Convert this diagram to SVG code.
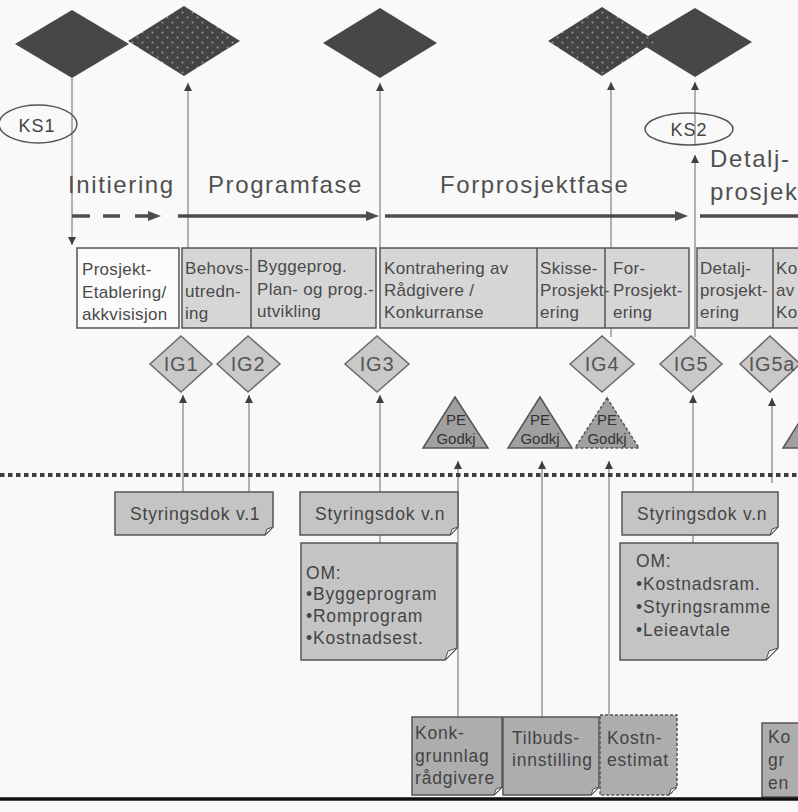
<svg xmlns="http://www.w3.org/2000/svg" width="798" height="812" viewBox="0 0 798 812">
<defs>
<pattern id="dots" width="10" height="10" patternUnits="userSpaceOnUse">
<rect width="10" height="10" fill="#444"/>
<circle cx="2.5" cy="2.5" r="1" fill="#9a9a9a"/>
<circle cx="7.5" cy="7.5" r="1" fill="#9a9a9a"/>
</pattern>
<marker id="ah" viewBox="0 0 10 10" refX="10" refY="5" markerWidth="8" markerHeight="8" markerUnits="userSpaceOnUse" orient="auto">
<path d="M0,0 L10,5 L0,10 Z" fill="#3e3e3e"/>
</marker>
</defs>
<style>
text{font-family:"Liberation Sans",Arial,sans-serif;fill:#4a4a4a}
.ph{font-size:24px;letter-spacing:1.6px;fill:#505050}
.bx{font-size:17px;letter-spacing:0.3px}
.ig{font-size:20px;letter-spacing:0.8px;text-anchor:middle;fill:#555}
.dk{font-size:17.5px;letter-spacing:0.8px;fill:#444}
.pe{font-size:15px;text-anchor:middle;fill:#333}
.ks{font-size:18px;letter-spacing:1px;text-anchor:middle;fill:#444}
.top{fill:#474747}
.conn line{stroke:#999;stroke-width:1.5;fill:none}
.box{fill:#d6d6d6;stroke:#555;stroke-width:1.5}
.igd{fill:#c9c9c9;stroke:#6a6a6a;stroke-width:1.5}
.tri{fill:#a0a0a0;stroke:#555;stroke-width:1.5}
.sd{fill:#c4c4c4;stroke:#555;stroke-width:1.5}
.bd{fill:#adadad;stroke:#555;stroke-width:1.5}
.fold{fill:#eeeeee;stroke:#555;stroke-width:1}
.parr{stroke:#4d4d4d;stroke-width:3.5;fill:none}
</style>
<rect width="798" height="812" fill="#f9f9f9"/>

<!-- connectors (drawn under nodes) -->
<g id="connectors" class="conn">
<line x1="72" y1="78" x2="72" y2="245" marker-end="url(#ah)"/>
<line x1="188" y1="248" x2="188" y2="83" marker-end="url(#ah)"/>
<line x1="380" y1="248" x2="380" y2="83" marker-end="url(#ah)"/>
<line x1="611" y1="337" x2="611" y2="82" marker-end="url(#ah)"/>
<line x1="695" y1="337" x2="695" y2="155" marker-end="url(#ah)"/>
<line x1="695" y1="146" x2="695" y2="82" marker-end="url(#ah)"/>
<line x1="183" y1="492" x2="183" y2="395" marker-end="url(#ah)"/>
<line x1="249" y1="492" x2="249" y2="395" marker-end="url(#ah)"/>
<line x1="380" y1="492" x2="380" y2="395" marker-end="url(#ah)"/>
<line x1="693" y1="492" x2="693" y2="395" marker-end="url(#ah)"/>
<line x1="772" y1="483" x2="772" y2="398" marker-end="url(#ah)"/>
<line x1="458" y1="717" x2="458" y2="461" marker-end="url(#ah)"/>
<line x1="542" y1="717" x2="542" y2="461" marker-end="url(#ah)"/>
<line x1="609" y1="715" x2="609" y2="461" marker-end="url(#ah)"/>
<line x1="380" y1="535" x2="380" y2="543"/>
<line x1="693" y1="535" x2="693" y2="543"/>
</g>

<!-- top milestones -->
<g id="m1"><polygon class="top" points="15,44 72,10 129,44 72,78"/></g>
<g id="m3"><polygon class="top" points="323,43 380,8 437,43 380,78"/></g>
<g id="m5"><polygon class="top" points="638,42 695,8 752,42 695,77"/></g>
<g id="m2"><polygon fill="url(#dots)" points="128,41 184,6 240,41 184,76"/></g>
<g id="m4"><polygon fill="url(#dots)" points="548,41 602,7 656,41 602,76"/></g>

<!-- KS ellipses -->
<g id="ks1"><ellipse cx="38" cy="124" rx="39" ry="19" fill="none" stroke="#555" stroke-width="1.5"/><text class="ks" x="37" y="132">KS1</text></g>
<g id="ks2"><ellipse cx="689" cy="129" rx="44" ry="16" fill="none" stroke="#555" stroke-width="1.5"/><text class="ks" x="689" y="136">KS2</text></g>

<!-- phases -->
<g id="phases">
<text class="ph" x="68" y="193">Initiering</text>
<text class="ph" x="208" y="193">Programfase</text>
<text class="ph" x="440" y="193">Forprosjektfase</text>
<text class="ph" x="710" y="167">Detalj-</text>
<text class="ph" x="710" y="200">prosjek</text>
<g id="phase-arrows">
<line class="parr" x1="72" y1="216" x2="90" y2="216"/>
<line class="parr" x1="103" y1="216" x2="120" y2="216"/>
<line class="parr" x1="135" y1="216" x2="150" y2="216"/>
<path d="M148,211 L161,216 L148,221 Z" fill="#4d4d4d"/>
<line class="parr" x1="178" y1="216" x2="368" y2="216"/>
<path d="M366,211 L379,216 L366,221 Z" fill="#4d4d4d"/>
<line class="parr" x1="385" y1="216" x2="677" y2="216"/>
<path d="M675,211 L688,216 L675,221 Z" fill="#4d4d4d"/>
<line class="parr" x1="700" y1="216" x2="798" y2="216"/>
</g>
</g>

<!-- activity boxes -->
<g id="boxA"><rect x="77" y="248" width="102" height="80" fill="#fbfbfb" stroke="#555" stroke-width="1.5"/>
<text class="bx" x="82" y="275">Prosjekt-</text><text class="bx" x="82" y="298">Etablering/</text><text class="bx" x="82" y="320">akkvisisjon</text></g>
<g id="boxB"><rect class="box" x="182" y="248" width="194" height="80"/><line x1="251" y1="248" x2="251" y2="328" stroke="#555" stroke-width="1.5"/>
<text class="bx" x="185" y="274">Behovs-</text><text class="bx" x="185" y="297">utredn-</text><text class="bx" x="185" y="319">ing</text>
<text class="bx" x="257" y="272">Byggeprog.</text><text class="bx" x="257" y="295">Plan- og prog.-</text><text class="bx" x="257" y="317">utvikling</text></g>
<g id="boxC"><rect class="box" x="380" y="248" width="309" height="80"/>
<line x1="537" y1="248" x2="537" y2="328" stroke="#555" stroke-width="1.5"/><line x1="605" y1="248" x2="605" y2="328" stroke="#555" stroke-width="1.5"/>
<text class="bx" x="384" y="274">Kontrahering av</text><text class="bx" x="384" y="296">Rådgivere /</text><text class="bx" x="384" y="318">Konkurranse</text>
<text class="bx" x="540" y="274">Skisse-</text><text class="bx" x="540" y="296">Prosjekt-</text><text class="bx" x="540" y="318">ering</text>
<text class="bx" x="613" y="274">For-</text><text class="bx" x="613" y="296">Prosjekt-</text><text class="bx" x="613" y="318">ering</text></g>
<g id="boxD"><rect class="box" x="697" y="248" width="110" height="80"/><line x1="773" y1="248" x2="773" y2="328" stroke="#555" stroke-width="1.5"/>
<text class="bx" x="700" y="274">Detalj-</text><text class="bx" x="700" y="296">prosjekt-</text><text class="bx" x="700" y="318">ering</text>
<text class="bx" x="776" y="274">Ko</text><text class="bx" x="776" y="296">av</text><text class="bx" x="776" y="318">Ko</text></g>

<!-- IG gates -->
<g id="ig1"><polygon class="igd" points="150,364 181,336 212,364 181,392"/><text class="ig" x="181" y="371">IG1</text></g>
<g id="ig2"><polygon class="igd" points="217,364 248,336 280,364 248,392"/><text class="ig" x="248" y="371">IG2</text></g>
<g id="ig3"><polygon class="igd" points="345,364 377,336 409,364 377,392"/><text class="ig" x="377" y="371">IG3</text></g>
<g id="ig4"><polygon class="igd" points="570,364 602,336 634,364 602,392"/><text class="ig" x="602" y="371">IG4</text></g>
<g id="ig5"><polygon class="igd" points="660,364 691,336 722,364 691,392"/><text class="ig" x="691" y="371">IG5</text></g>
<g id="ig5a"><polygon class="igd" points="740,364 770,336 800,364 770,392"/><text class="ig" x="772" y="371">IG5a</text></g>

<!-- PE triangles -->
<g id="pe1"><polygon class="tri" points="455,397 488,448 423,448"/><text class="pe" x="456" y="425">PE</text><text class="pe" x="456" y="444">Godkj</text></g>
<g id="pe2"><polygon class="tri" points="540,397 572,448 508,448"/><text class="pe" x="540" y="425">PE</text><text class="pe" x="540" y="444">Godkj</text></g>
<g id="pe3"><polygon class="tri" points="607,398 639,448 575,448" stroke-dasharray="3 2"/><text class="pe" x="607" y="425">PE</text><text class="pe" x="607" y="444">Godkj</text></g>
<g id="pe4"><polygon class="tri" points="815,397 847,448 783,448"/></g>

<!-- dotted separator -->
<line x1="0" y1="475" x2="798" y2="475" stroke="#3c3c3c" stroke-width="4" stroke-dasharray="4.5 3.5"/>

<!-- Styringsdok -->
<g id="sd1"><path class="sd" d="M115,492 H273 V527 L265,535 H115 Z"/><path class="fold" d="M265,535 L267,529 L273,527 Z"/><text class="dk" x="130" y="520">Styringsdok v.1</text></g>
<g id="sd2"><path class="sd" d="M300,492 H458 V527 L450,535 H300 Z"/><path class="fold" d="M450,535 L452,529 L458,527 Z"/><text class="dk" x="315" y="520">Styringsdok v.n</text></g>
<g id="sd3"><path class="sd" d="M622,492 H778 V527 L770,535 H622 Z"/><path class="fold" d="M770,535 L772,529 L778,527 Z"/><text class="dk" x="637" y="520">Styringsdok v.n</text></g>

<!-- OM docs -->
<g id="om1"><path class="sd" d="M301,543 H457 V648 L445,660 H301 Z"/><path class="fold" d="M445,660 L448,651 L457,648 Z"/>
<text class="dk" x="306" y="579">OM:</text><text class="dk" x="306" y="600">•Byggeprogram</text><text class="dk" x="306" y="622">•Romprogram</text><text class="dk" x="306" y="644">•Kostnadsest.</text></g>
<g id="om2"><path class="sd" d="M620,543 H778 V648 L766,660 H620 Z"/><path class="fold" d="M766,660 L769,651 L778,648 Z"/>
<text class="dk" x="636" y="567">OM:</text><text class="dk" x="636" y="590">•Kostnadsram.</text><text class="dk" x="636" y="613">•Styringsramme</text><text class="dk" x="636" y="636">•Leieavtale</text></g>

<!-- bottom docs -->
<g id="bd1"><path class="bd" d="M412,717 H502 V787 L494,795 H412 Z"/><path class="fold" d="M494,795 L496,789 L502,787 Z"/>
<text class="dk" x="415" y="739">Konk-</text><text class="dk" x="415" y="762">grunnlag</text><text class="dk" x="415" y="784">rådgivere</text></g>
<g id="bd2"><path class="bd" d="M503,717 H599 V787 L591,795 H503 Z"/><path class="fold" d="M591,795 L593,789 L599,787 Z"/>
<text class="dk" x="512" y="744">Tilbuds-</text><text class="dk" x="512" y="766">innstilling</text></g>
<g id="bd3"><path class="bd" d="M600,715 H677 V787 L669,795 H600 Z" stroke-dasharray="3 2"/><path class="fold" d="M669,795 L671,789 L677,787 Z"/>
<text class="dk" x="607" y="744">Kostn-</text><text class="dk" x="607" y="766">estimat</text></g>
<g id="bd4"><path class="bd" d="M762,723 H820 V797 H762 Z"/>
<text class="dk" x="768" y="743">Ko</text><text class="dk" x="768" y="766">gr</text><text class="dk" x="768" y="789">en</text></g>

<line x1="0" y1="799" x2="798" y2="799" stroke="#111" stroke-width="3.5"/>
</svg>
